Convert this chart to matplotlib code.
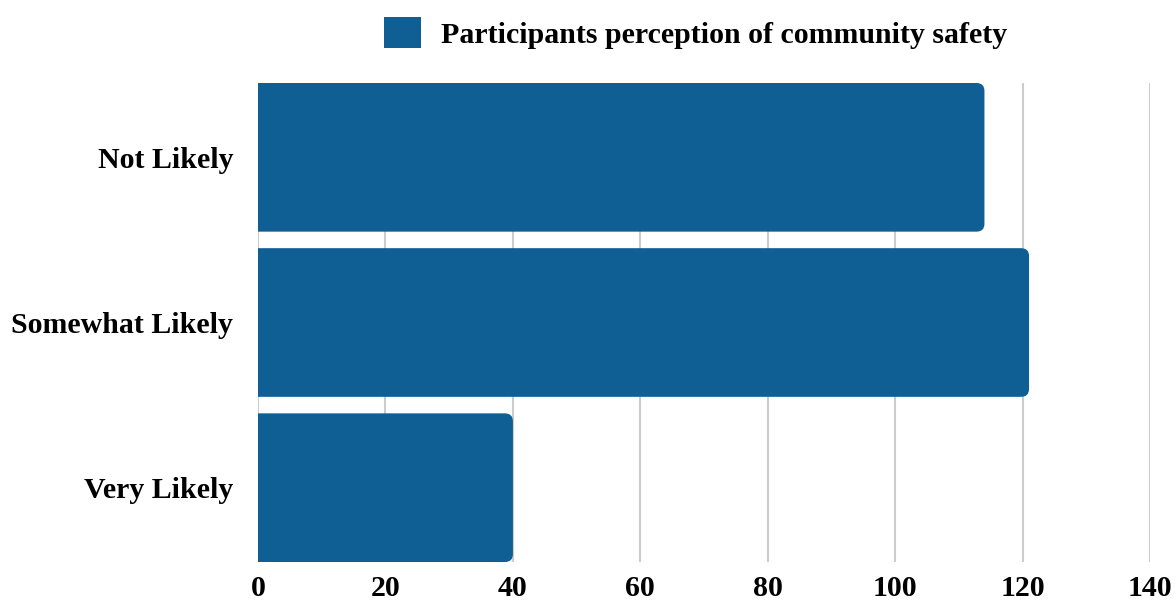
import matplotlib.pyplot as plt
from matplotlib.patches import FancyBboxPatch, Patch

categories = ["Not Likely", "Somewhat Likely", "Very Likely"]
counts = [114, 121, 40]
series_name = "Participants perception of community safety"
x_ticks = [0, 20, 40, 60, 80, 100, 120, 140]

bar_color = "#0f5e94"

plt.rcParams["font.family"] = ["Liberation Serif", "DejaVu Serif"]
plt.rcParams["font.weight"] = "bold"

fig, ax = plt.subplots(figsize=(11.76, 6.04), dpi=100)
fig.subplots_adjust(left=0.2194, right=0.978, top=0.8626, bottom=0.0695)

ypos = list(range(len(categories)))
bars = ax.barh(ypos, counts, height=0.9, color=bar_color, zorder=2)

# swap plain rectangles for ones with rounded right corners
# (left corners pushed past x=0 so the axes clip them square)
r = 1.26
for b in bars:
    x0, y0 = b.get_x(), b.get_y()
    w, h = b.get_width(), b.get_height()
    b.set_visible(False)
    rb = FancyBboxPatch(
        (x0 - r * 2, y0), w + r * 2, h,
        boxstyle=f"round,pad=0,rounding_size={r}",
        mutation_aspect=0.038,
        facecolor=bar_color, edgecolor="none", zorder=2,
    )
    ax.add_patch(rb)

ax.set_xlim(0, 140)
ax.set_ylim(-0.45, 2.45)
ax.invert_yaxis()

ax.set_yticks(ypos)
ax.set_yticklabels(categories)
ax.set_xticks(x_ticks)

ax.grid(True, axis="x", color="#cccccc", linewidth=1.5, zorder=0)
ax.set_axisbelow(True)
for s in ax.spines.values():
    s.set_visible(False)

ax.tick_params(axis="y", length=0, pad=18, labelsize=21.5)
ax.tick_params(axis="x", length=0, pad=9, labelsize=21.5)

ax.legend(
    handles=[Patch(facecolor=bar_color, label=series_name)],
    loc="lower center", bbox_to_anchor=(0.49, 1.0),
    frameon=False, fontsize=21.5, handlelength=1.24, handleheight=1.2,
    handletextpad=0.67, borderaxespad=0.75,
)

plt.savefig("out.png", dpi=100)
